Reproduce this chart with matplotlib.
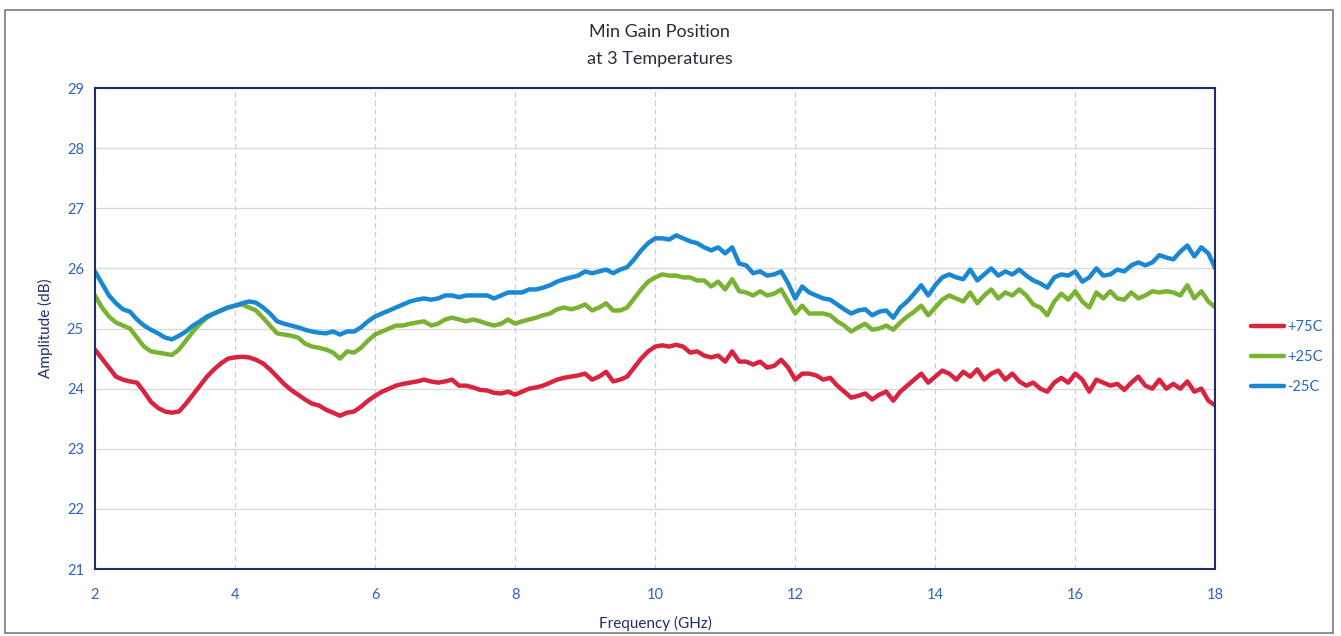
import numpy as np
import matplotlib
matplotlib.use("Agg")
from matplotlib import pyplot as plt
from matplotlib.patches import Rectangle

plt.rcParams['font.family'] = ['Lato', 'DejaVu Sans']

# frequency grid, 0.1 GHz steps from 2 to 18 GHz
freq = np.round(np.arange(2.0, 18.05, 0.1), 1)

# +75C trace (dB)
red = [24.65, 24.5, 24.35, 24.2, 24.15, 24.12, 24.1, 23.95, 23.78, 23.68,
       23.62, 23.6, 23.62, 23.75, 23.9, 24.05, 24.2, 24.32, 24.42, 24.5,
       24.52, 24.53, 24.52, 24.48, 24.42, 24.32, 24.2, 24.08, 23.98, 23.9,
       23.82, 23.75, 23.72, 23.65, 23.6, 23.55, 23.6, 23.62, 23.7, 23.8,
       23.88, 23.95, 24.0, 24.05, 24.08, 24.1, 24.12, 24.15, 24.12, 24.1,
       24.12, 24.15, 24.05, 24.05, 24.02, 23.98, 23.97, 23.93, 23.92, 23.95,
       23.9, 23.95, 24.0, 24.02, 24.05, 24.1, 24.15, 24.18, 24.2, 24.22,
       24.25, 24.15, 24.2, 24.28, 24.12, 24.15, 24.2, 24.35, 24.5, 24.62,
       24.7, 24.72, 24.7, 24.73, 24.7, 24.6, 24.62, 24.55, 24.52, 24.55,
       24.45, 24.62, 24.45, 24.45, 24.4, 24.45, 24.35, 24.38, 24.48, 24.35,
       24.15, 24.25, 24.25, 24.22, 24.15, 24.18, 24.05, 23.95, 23.85, 23.88,
       23.92, 23.82, 23.9, 23.95, 23.8, 23.95, 24.05, 24.15, 24.25, 24.1,
       24.2, 24.3, 24.25, 24.15, 24.28, 24.2, 24.32, 24.15, 24.25, 24.3,
       24.15, 24.25, 24.12, 24.05, 24.1, 24.0, 23.95, 24.1, 24.18, 24.1,
       24.25, 24.15, 23.95, 24.15, 24.1, 24.05, 24.08, 23.98, 24.1, 24.2,
       24.05, 24.0, 24.15, 24.0, 24.08, 24.0, 24.12, 23.95, 24.0, 23.8,
       23.72]

# +25C trace (dB)
green = [25.55, 25.35, 25.2, 25.1, 25.05, 25.0, 24.85, 24.7, 24.62, 24.6,
         24.58, 24.56, 24.65, 24.8, 24.95, 25.08, 25.18, 25.25, 25.3, 25.35,
         25.38, 25.4, 25.35, 25.3, 25.18, 25.05, 24.92, 24.9, 24.88, 24.85,
         24.75, 24.7, 24.68, 24.65, 24.6, 24.5, 24.62, 24.6, 24.68, 24.8,
         24.9, 24.95, 25.0, 25.05, 25.05, 25.08, 25.1, 25.12, 25.05, 25.08,
         25.15, 25.18, 25.15, 25.12, 25.15, 25.12, 25.08, 25.05, 25.08, 25.15,
         25.08, 25.12, 25.15, 25.18, 25.22, 25.25, 25.32, 25.35, 25.32, 25.35,
         25.4, 25.3, 25.35, 25.42, 25.3, 25.3, 25.35, 25.5, 25.65, 25.78,
         25.85, 25.9, 25.88, 25.88, 25.85, 25.85, 25.8, 25.8, 25.7, 25.78,
         25.65, 25.82, 25.62, 25.6, 25.55, 25.62, 25.55, 25.58, 25.65, 25.45,
         25.25, 25.38, 25.25, 25.25, 25.25, 25.22, 25.12, 25.05, 24.95, 25.02,
         25.08, 24.98, 25.0, 25.05, 24.98, 25.1, 25.2, 25.28, 25.38, 25.22,
         25.35, 25.48, 25.55, 25.5, 25.45, 25.6, 25.42, 25.55, 25.65, 25.5,
         25.6, 25.55, 25.65, 25.55, 25.4, 25.35, 25.22, 25.45, 25.58, 25.48,
         25.62, 25.45, 25.35, 25.6, 25.5, 25.62, 25.5, 25.48, 25.6, 25.5,
         25.55, 25.62, 25.6, 25.62, 25.6, 25.55, 25.72, 25.5, 25.62, 25.45,
         25.35]

# -25C trace (dB)
blue = [25.95, 25.75, 25.55, 25.42, 25.32, 25.28, 25.15, 25.05, 24.98, 24.92,
        24.85, 24.82, 24.88, 24.95, 25.05, 25.12, 25.2, 25.25, 25.3, 25.35,
        25.38, 25.42, 25.45, 25.43, 25.35, 25.25, 25.12, 25.08, 25.05, 25.02,
        24.98, 24.95, 24.93, 24.92, 24.95, 24.9, 24.95, 24.95, 25.02, 25.12,
        25.2, 25.25, 25.3, 25.35, 25.4, 25.45, 25.48, 25.5, 25.48, 25.5,
        25.55, 25.55, 25.52, 25.55, 25.55, 25.55, 25.55, 25.5, 25.55, 25.6,
        25.6, 25.6, 25.65, 25.65, 25.68, 25.72, 25.78, 25.82, 25.85, 25.88,
        25.95, 25.92, 25.95, 25.98, 25.92, 25.98, 26.02, 26.15, 26.3, 26.42,
        26.5, 26.5, 26.48, 26.55, 26.5, 26.45, 26.42, 26.35, 26.3, 26.35,
        26.25, 26.35, 26.08, 26.05, 25.92, 25.95, 25.88, 25.9, 25.95, 25.75,
        25.5, 25.7, 25.6, 25.55, 25.5, 25.48, 25.4, 25.32, 25.25, 25.3,
        25.32, 25.22, 25.28, 25.3, 25.18, 25.35, 25.45, 25.58, 25.72, 25.55,
        25.72, 25.85, 25.9, 25.85, 25.82, 25.98, 25.8, 25.9, 26.0, 25.88,
        25.95, 25.9, 25.98, 25.88, 25.8, 25.75, 25.68, 25.85, 25.9, 25.88,
        25.95, 25.78, 25.85, 26.0, 25.88, 25.9, 25.98, 25.95, 26.05, 26.1,
        26.05, 26.1, 26.22, 26.18, 26.15, 26.28, 26.38, 26.2, 26.35, 26.25,
        26.0]

labels = ['+75C', '+25C', '-25C']
colors = ['#d8243f', '#79b331', '#1a87d2']
xticks = [2, 4, 6, 8, 10, 12, 14, 16, 18]
yticks = [21, 22, 23, 24, 25, 26, 27, 28, 29]

navy = '#1f2d6b'
tickblue = '#2a63c4'

fig = plt.figure(figsize=(13.41, 6.36), dpi=100)
ax = fig.add_axes([0.0708, 0.1053, 0.8355, 0.7563])

for ys, lab, c in zip([red, green, blue], labels, colors):
    ax.plot(freq, ys, color=c, lw=3.2, label=lab, solid_capstyle='round')

ax.set_xlim(2, 18)
ax.set_ylim(21, 29)
ax.set_xticks(xticks)
ax.set_yticks(yticks)
ax.tick_params(axis='both', length=0, labelsize=10.5, labelcolor=tickblue)
ax.tick_params(axis='x', pad=14)
ax.tick_params(axis='y', pad=8)
ax.grid(axis='x', color='#cdcdcd', lw=0.9, ls=(0, (4, 3)))
ax.grid(axis='y', color='#d8d8d8', lw=0.9)
for s in ax.spines.values():
    s.set_color(navy)
    s.set_linewidth(1.5)

ax.set_xlabel('Frequency (GHz)', fontsize=11, color=navy, labelpad=10)
ax.set_ylabel('Amplitude (dB)', fontsize=11, color=navy, labelpad=10)
fig.text(0.492, 0.95, 'Min Gain Position', ha='center', va='center',
         fontsize=13, color='#2b2b3a')
fig.text(0.492, 0.908, 'at 3 Temperatures', ha='center', va='center',
         fontsize=13, color='#2b2b3a')

leg = ax.legend(loc='center left', bbox_to_anchor=(1.02, 0.44), frameon=False,
                fontsize=10.5, handlelength=2.3, labelspacing=1.1,
                handletextpad=0.2)
for t in leg.get_texts():
    t.set_color(tickblue)

fig.patches.append(Rectangle((0.004, 0.005), 0.99, 0.98, transform=fig.transFigure,
                             fill=False, edgecolor='#7a7a7a', lw=1.2))

fig.savefig('out.png', dpi=100)
